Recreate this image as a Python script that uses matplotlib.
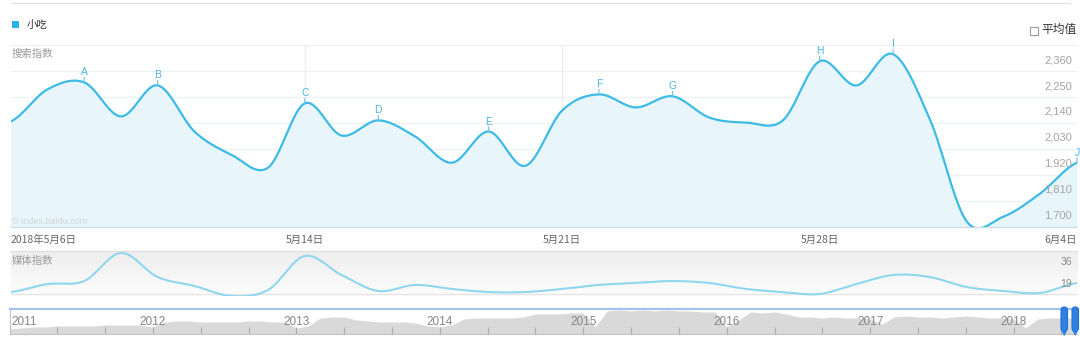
import numpy as np
import matplotlib
matplotlib.use("Agg")
import matplotlib.pyplot as plt
from matplotlib.patches import Rectangle, FancyBboxPatch, Polygon
from matplotlib.lines import Line2D
from matplotlib.transforms import IdentityTransform, blended_transform_factory
from matplotlib.colors import LinearSegmentedColormap

plt.rcParams['font.family'] = ['Noto Sans CJK SC', 'DejaVu Sans']

# ---------------- data ----------------
series_name = "小吃"
search_index = [2146, 2282, 2312, 2168, 2299, 2104, 2006, 1951, 2223, 2087,
                2151, 2083, 1972, 2104, 1959, 2193, 2261, 2206, 2253, 2163,
                2142, 2151, 2401, 2299, 2431, 2155, 1724, 1744, 1842, 1972]
media_index = [20.5, 26.7, 29.0, 50.7, 32.1, 25.2, 17.5, 22.1, 48.4, 33.7,
               21.3, 26.0, 22.9, 20.5, 20.5, 22.9, 26.0, 27.5, 29.0, 27.5,
               22.9, 20.5, 19.0, 26.7, 33.7, 32.1, 24.4, 21.3, 19.8, 27.5]
date_ticks = [0, 8, 15, 22, 29]
date_labels = ["2018年5月6日", "5月14日", "5月21日", "5月28日", "6月4日"]
marker_idx = [2, 4, 8, 10, 13, 16, 18, 22, 24, 29]
marker_letters = ["A", "B", "C", "D", "E", "F", "G", "H", "I", "J"]
y_ticks = [1700, 1810, 1920, 2030, 2140, 2250, 2360]
media_ticks = [19, 36]
# navigator: monthly overview Jan 2011 .. Jun 2018
nav_values = [1, 2, 3, 3, 4, 4, 4, 4, 5, 5, 5, 5,
              3, 8, 9, 9, 8, 8, 8, 8, 9, 9, 8, 8,
              2, 4, 12, 13, 13, 10, 9, 8, 8, 8, 7, 4,
              3, 5, 11, 12, 12, 12, 12, 13, 16, 16, 16, 17,
              17, 3, 19, 20, 19, 20, 19, 20, 19, 19, 18, 18,
              3, 10, 18, 17, 18, 16, 13, 13, 12, 13, 12, 12,
              11, 6, 13, 14, 13, 13, 12, 13, 14, 13, 12, 12,
              11, 2, 11, 12, 12, 12]
nav_years = ["2011", "2012", "2013", "2014", "2015", "2016", "2017", "2018"]

W, H = 1080, 341
fig = plt.figure(figsize=(W / 100, H / 100), dpi=100)


def rect(x0, y0, x1, y1):
    return [x0 / W, 1 - y1 / H, (x1 - x0) / W, (y1 - y0) / H]


def catmull(y, n=24):
    y = np.asarray(y, dtype=float)
    p = np.concatenate([[y[0]], y, [y[-1]]])
    xs, ys = [], []
    t = np.linspace(0, 1, n, endpoint=False)
    for i in range(len(y) - 1):
        p0, p1, p2, p3 = p[i], p[i + 1], p[i + 2], p[i + 3]
        seg = 0.5 * (2 * p1 + (-p0 + p2) * t + (2 * p0 - 5 * p1 + 4 * p2 - p3) * t ** 2
                     + (-p0 + 3 * p1 - 3 * p2 + p3) * t ** 3)
        xs.append(i + t)
        ys.append(seg)
    xs.append([len(y) - 1])
    ys.append([y[-1]])
    return np.concatenate(xs), np.concatenate(ys)


LINE = '#3dbbe6'
FILL = '#e8f6fc'
GRID = '#eef1f3'
LBL = '#a3a3a3'

# top separator
fig.add_artist(Line2D([12 / W, 1070 / W], [1 - 3 / H, 1 - 3 / H], color='#e2e2e2', lw=1))

# legend
fig.add_artist(Rectangle((12 / W, 1 - 28 / H), 7 / W, 7 / H, color='#2cb3ea', lw=0))
fig.text(27 / W, 1 - 24.5 / H, series_name, fontsize=7.5, color='#333333', va='center', ha='left')
fig.add_artist(Rectangle((1030 / W, 1 - 34.5 / H), 8 / W, 8 / H, facecolor='white',
                         edgecolor='#9a9a9a', lw=0.8))
fig.text(1041 / W, 1 - 29.5 / H, "平均值", fontsize=8.5, color='#333333', va='center', ha='left')

# ---------------- main chart ----------------
ax = fig.add_axes(rect(10.6, 45, 1077, 227))
ax.set_xlim(0, 29)
ax.set_ylim(1700, 2470)
xs, ys = catmull(search_index)
ax.fill_between(xs, ys, 1600, color=FILL, lw=0, zorder=1)
ax.plot(xs, ys, color=LINE, lw=1.6, zorder=3, solid_capstyle='round')
for v in y_ticks[1:] + [2470]:
    ax.axhline(v, color=GRID, lw=0.9, zorder=0.5)
for d in date_ticks[1:-1]:
    ax.axvline(d, color='#e6eef2', lw=0.9, zorder=0.5)
for s in ['top', 'left', 'right']:
    ax.spines[s].set_visible(False)
ax.spines['bottom'].set_color('#cfdfe6')
ax.spines['bottom'].set_linewidth(1.0)
ax.set_xticks([])
ax.set_yticks([])
ax.patch.set_alpha(0)

tr_y = blended_transform_factory(ax.transAxes, ax.transData)
for v in y_ticks:
    ax.annotate(f"{v:,}", xy=(1, v), xycoords=tr_y, xytext=(-5, 11), textcoords='offset pixels',
                ha='right', va='center', fontsize=8, color=LBL, family='Liberation Sans', zorder=5)

for i, letter in zip(marker_idx, marker_letters):
    v = search_index[i]
    ax.annotate("", xy=(i, v), xytext=(0, 5), textcoords='offset pixels',
                arrowprops=dict(arrowstyle='-', color='#6cc3e8', lw=0.8, shrinkA=0, shrinkB=0))
    ax.annotate(letter, xy=(i, v), xytext=(0, 10), textcoords='offset pixels',
                ha='center', va='center', fontsize=7.5, color='#4fb6e3',
                family='Liberation Sans', annotation_clip=False, zorder=6)

ax.text(1.4 / 1066.4, 1 - 9 / 182, "搜索指数", transform=ax.transAxes, fontsize=7.5,
        color='#9a9a9a', ha='left', va='center')
ax.text(1.4 / 1066.4, 6 / 182, "© index.baidu.com", transform=ax.transAxes, fontsize=6.5,
        color='#cdd6da', ha='left', va='center', family='Liberation Sans')

tr_x = blended_transform_factory(ax.transData, ax.transAxes)
for k, (d, lab) in enumerate(zip(date_ticks, date_labels)):
    ha = 'left' if k == 0 else ('right' if k == len(date_ticks) - 1 else 'center')
    ax.text(d, -13 / 182, lab, transform=tr_x, ha=ha, va='center', fontsize=7.5, color='#666666')

fig.add_artist(Line2D([10 / W, 1077 / W], [1 - 251 / H, 1 - 251 / H], color='#e0e0e0', lw=1))

# ---------------- media chart ----------------
ax2 = fig.add_axes(rect(10.6, 252, 1077, 296))
ax2.set_xlim(0, 29)
ax2.set_ylim(17.45, 51.46)
grad = np.linspace(0, 1, 100).reshape(-1, 1)
cmap = LinearSegmentedColormap.from_list('g', ['#fdfdfd', '#eeeeee'])
ax2.imshow(grad, extent=[0, 1, 0, 1], transform=ax2.transAxes, cmap=cmap, aspect='auto',
           origin='lower', zorder=0)
mx, my = catmull(media_index)
ax2.plot(mx, my, color='#8fd6ee', lw=1.5, zorder=3)
ax2.axhline(19, color='#e4e4e4', lw=0.9, zorder=1)
for s in ax2.spines.values():
    s.set_visible(False)
ax2.set_xticks([])
ax2.set_yticks([])
tr2 = blended_transform_factory(ax2.transAxes, ax2.transData)
for v in media_ticks:
    ax2.annotate(f"{v}", xy=(1, v), xytext=(-5, 10), textcoords='offset pixels',
                 xycoords=tr2, ha='right', va='center', fontsize=7.5, color='#8a8a8a',
                 family='Liberation Sans', zorder=5)
ax2.text(1.4 / 1066.4, 1 - 9 / 44, "媒体指数", transform=ax2.transAxes, fontsize=7.5,
         color='#9a9a9a', ha='left', va='center', zorder=5)

# ---------------- navigator ----------------
ax3 = fig.add_axes(rect(9.5, 309, 1077, 334))
ax3.set_xlim(0, 89.3)
ax3.set_ylim(-4, 21)
mm = np.arange(len(nav_values))
ax3.fill_between(mm, nav_values, -4, color='#d9d9d9', lw=0, zorder=1)
ax3.set_xticks(np.arange(0, 90, 4))
ax3.tick_params(axis='x', direction='in', length=5, color='#aaaaaa', width=0.8,
                labelbottom=False)
ax3.set_yticks([])
ax3.spines['top'].set_color('#a6c0f2')
ax3.spines['top'].set_linewidth(1.6)
ax3.spines['bottom'].set_color('#c4c4c4')
ax3.spines['left'].set_color('#c4c4c4')
ax3.spines['right'].set_visible(False)
for k, yr in enumerate(nav_years):
    m = 12 * k
    if k == 0:
        ax3.annotate(yr, xy=(m, 8), xytext=(2, 0), textcoords='offset pixels',
                     ha='left', va='center', fontsize=8.5, color='#858585',
                     family='Liberation Sans', zorder=5)
    else:
        ax3.text(m, 8, yr, ha='center', va='center', fontsize=8.5, color='#858585',
                 family='Liberation Sans', zorder=5)

# navigator handles (pixel coordinates)
for hx in (1061, 1072):
    p = FancyBboxPatch((hx, H - 331), 6.5, 24, boxstyle='round,pad=0,rounding_size=3',
                       transform=IdentityTransform(), facecolor='#2f80e4',
                       edgecolor='#1f6fd0', lw=0.8)
    fig.add_artist(p)
    tri = Polygon([(hx, H - 330), (hx + 6.5, H - 330), (hx + 3.25, H - 336)], closed=True,
                  transform=IdentityTransform(), facecolor='#2f80e4', edgecolor='none')
    fig.add_artist(tri)

fig.savefig('out.png', dpi=100)
